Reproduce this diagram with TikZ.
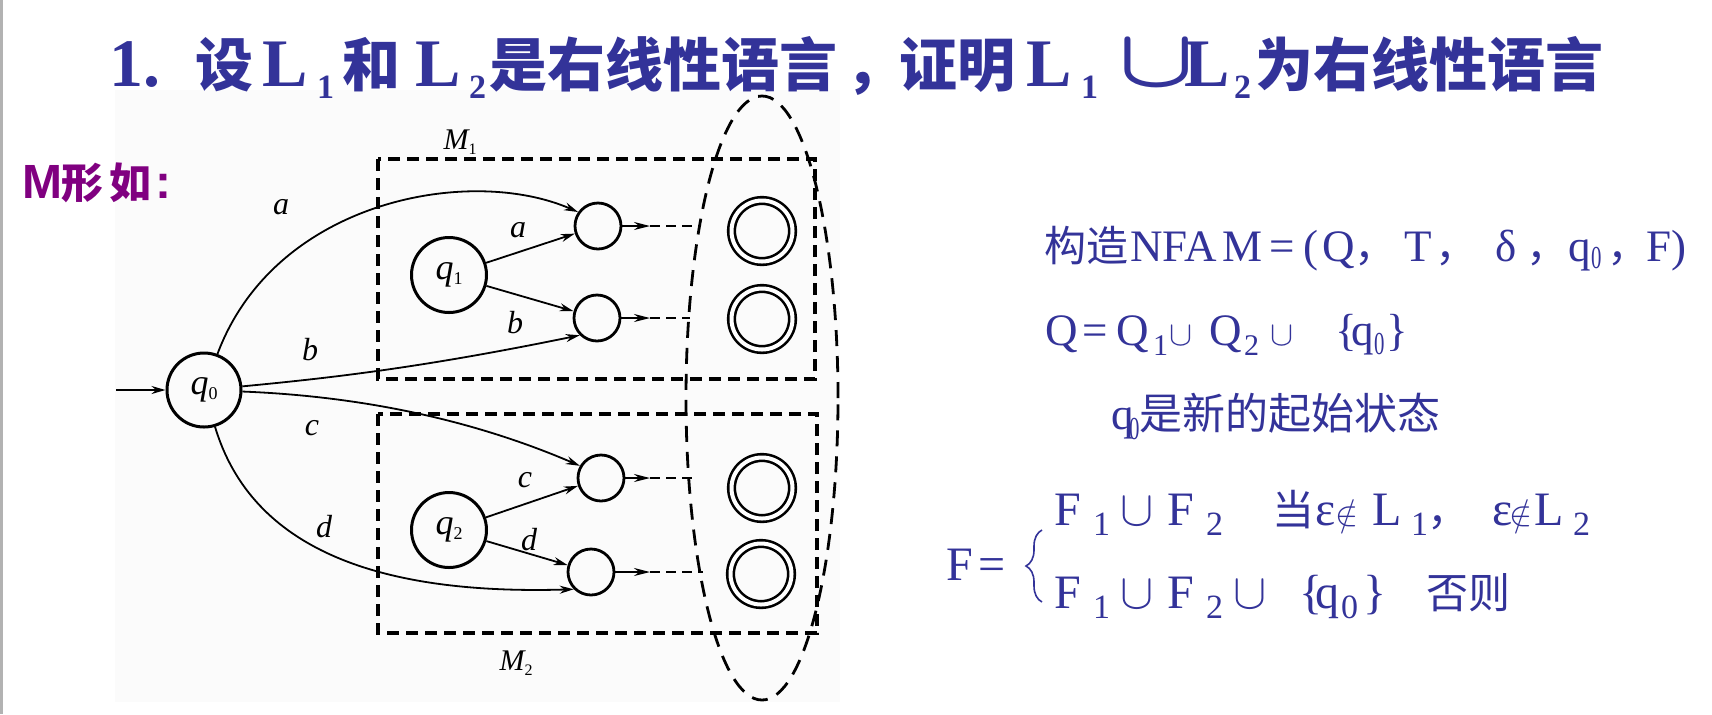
\documentclass[tikz,border=0pt]{standalone}
\usepackage{fontspec}
\usepackage{graphicx}
\setmainfont{Liberation Serif}
\newfontfamily\cjk{Noto Sans CJK SC}
\newfontfamily\arialf{Liberation Sans}
\usetikzlibrary{arrows.meta,shapes.geometric,decorations.pathreplacing}
\definecolor{tblue}{RGB}{51,51,153}
\definecolor{tpurple}{RGB}{128,0,128}
\newlength\upx \setlength\upx{0.5pt}
\newcommand\pc[2]{\rlap{\kern#1\upx #2}}
\newcommand\lowr[2]{\raisebox{-#1\upx}{#2}}
% title fonts
\newcommand\Tc{\cjk\bfseries\fontsize{29pt}{29pt}\selectfont}
\newcommand\Tl{\bfseries\fontsize{34pt}{34pt}\selectfont}
\newcommand\Ts{\bfseries\fontsize{17pt}{17pt}\selectfont}
% right text fonts
\newcommand\Rc{\cjk\fontsize{21pt}{21pt}\selectfont}
\newcommand\Rl{\fontsize{22.5pt}{22.5pt}\selectfont}
\newcommand\Rs{\fontsize{15pt}{15pt}\selectfont}
\newcommand\Fl{\fontsize{24pt}{24pt}\selectfont}
\newcommand\Fs{\fontsize{17pt}{17pt}\selectfont}
\newcommand\Fc{\cjk\fontsize{21pt}{21pt}\selectfont}
\newcommand\nsub[1]{\scalebox{0.65}[1]{\fontsize{16pt}{16pt}\selectfont #1}}
\begin{document}
\begin{tikzpicture}[x=0.5pt,y=-0.5pt,
  txt/.style={anchor=base west,inner sep=0pt,outer sep=0pt},
  bigst/.style={circle,draw,line width=1.5pt,minimum size=37.5pt,inner sep=0pt},
  smst/.style={circle,draw,line width=1.4pt,minimum size=23pt,inner sep=0pt},
  acc/.style={circle,draw,double,line width=1.3pt,double distance=2pt,minimum size=30.5pt,inner sep=0pt},
  dbox/.style={line width=1.6pt,dash pattern=on 6pt off 3.5pt},
  edge/.style={line width=0.9pt,-{Stealth[length=7pt,width=4pt]}},
  cedge/.style={line width=1pt,-{Stealth[length=8pt,width=4pt]}},
  cdash/.style={line width=1.2pt,dash pattern=on 5pt off 3pt},
  lab/.style={inner sep=0pt,font=\fontsize{16pt}{16pt}\selectfont\itshape},
  qlab/.style={inner sep=0pt,font=\fontsize{18pt}{18pt}\selectfont\itshape},
  mlab/.style={inner sep=0pt,font=\fontsize{15pt}{15pt}\selectfont\itshape}
]
\useasboundingbox (0,0) rectangle (1712,714);
\fill[white] (0,0) rectangle (1712,714);
\fill[black!1.5] (115,90) rectangle (840,702);
\draw[black!30,line width=1.5pt] (1.5,0) -- (1.5,714);

% ---------- title ----------
\node[txt,text=tblue] (title) at (109,86) {\pc{0}{\Tl 1.}\pc{86}{\Tc 设}\pc{153}{\Tl L}\pc{208}{\Ts\lowr{12}{1}}\pc{233}{\Tc 和}\pc{306}{\Tl L}\pc{360}{\Ts\lowr{12}{2}}\pc{380}{\Tc 是右线性语言}\pc{737}{\Tc ，}\pc{790}{\Tc 证明}\pc{917}{\Tl L}\pc{972}{\Ts\lowr{12}{1}}\pc{1009}{\fontsize{24.88pt}{24.88pt}\selectfont\boldmath\scalebox{2}[1.65]{$\cup$}}\pc{1075}{\Tl L}\pc{1125}{\Ts\lowr{12}{2}}\pc{1146}{\Tc 为右线性语言}\kern1490\upx};

% ---------- M形如: ----------
\node[txt,text=tpurple] (mform) at (22,198) {\pc{0}{\arialf\bfseries\fontsize{24pt}{24pt}\selectfont M}\pc{40}{\cjk\bfseries\fontsize{21pt}{21pt}\selectfont 形}\pc{88}{\cjk\bfseries\fontsize{21pt}{21pt}\selectfont 如}\pc{133}{\arialf\bfseries\fontsize{24pt}{24pt}\selectfont :}\kern150\upx};

% ---------- diagram ----------
\node[draw,ellipse,line width=1.4pt,dash pattern=on 8pt off 5pt,minimum width=76pt,minimum height=302pt,inner sep=0pt] (ell) at (762,398) {};
\draw[dbox] (378,159) rectangle (815,379);
\draw[dbox] (378,414) rectangle (817,633);
\node[mlab] (m1) at (460,142) {M\lowr{5}{\upshape\fontsize{8pt}{8pt}\selectfont 1}};
\node[mlab] (m2) at (516,663) {M\lowr{5}{\upshape\fontsize{8pt}{8pt}\selectfont 2}};

\node[bigst,minimum size=37pt] (q0) at (204,390) {};
\node[qlab] at (q0) {q\lowr{5}{\upshape\fontsize{9pt}{9pt}\selectfont 0}};
\node[bigst] (q1) at (449,275) {};
\node[qlab] at (q1) {q\lowr{5}{\upshape\fontsize{9pt}{9pt}\selectfont 1}};
\node[bigst] (q2) at (449,530) {};
\node[qlab] at (q2) {q\lowr{5}{\upshape\fontsize{9pt}{9pt}\selectfont 2}};

\node[smst] (s1) at (598,226) {};
\node[smst] (s2) at (597,318) {};
\node[smst] (s3) at (601,478) {};
\node[smst] (s4) at (591,572) {};

\node[acc] (f1) at (762,231) {};
\node[acc] (f2) at (762,319) {};
\node[acc] (f3) at (762,488) {};
\node[acc] (f4) at (761,574) {};

\coordinate (in) at (116,390);
\draw[edge] (in) -- (q0);

\draw[edge] (q0) .. controls (275,200) and (470,165) .. (s1.145);
\draw[edge] (q0) .. controls (330,378) and (420,368) .. (s2.225);
\draw[edge] (q0) .. controls (330,395) and (450,410) .. (s3.150);
\draw[edge] (q0) .. controls (252,550) and (380,595) .. (s4.225);
\draw[edge] (q1) -- (s1);
\draw[edge] (q1) -- (s2);
\draw[edge] (q2) -- (s3);
\draw[edge] (q2) -- (s4);

\node[lab] (la) at (281,207) {a};
\node[lab] (lb) at (310,350) {b};
\node[lab] (lc) at (312,428) {c};
\node[lab] (ld) at (324,527) {d};
\node[lab] (la2) at (518,230) {a};
\node[lab] (lb2) at (515,323) {b};
\node[lab] (lc2) at (525,480) {c};
\node[lab] (ld2) at (529,540) {d};

\coordinate (t1) at (650,226); \coordinate (e1) at (700,226);
\coordinate (t2) at (650,318); \coordinate (e2) at (690,318);
\coordinate (t3) at (650,478); \coordinate (e3) at (692,478);
\coordinate (t4) at (650,572); \coordinate (e4) at (703,572);
\draw[cedge] (s1) -- (t1); \draw[cdash] (t1) -- (e1);
\draw[cedge] (s2) -- (t2); \draw[cdash] (t2) -- (e2);
\draw[cedge] (s3) -- (t3); \draw[cdash] (t3) -- (e3);
\draw[cedge] (s4) -- (t4); \draw[cdash] (t4) -- (e4);

% ---------- right text ----------
\node[txt,text=tblue] (r1) at (1044,261) {\pc{0}{\Rc 构造}\pc{86}{\Rl NFA}\pc{179}{\Rl M}\pc{226}{\Rl =}\pc{260}{\Rl (}\pc{279}{\Rl Q}\pc{310}{\Rc ，}\pc{360}{\Rl T}\pc{391}{\Rc ，}\pc{451}{\Rl δ}\pc{482}{\Rc ，}\pc{524}{\Rl q}\pc{547}{\lowr{7}{\nsub{0}}}\pc{563}{\Rc ，}\pc{602}{\Rl F}\pc{627}{\Rl )}\kern640\upx};

\node[txt,text=tblue] (r2) at (1045,345) {\pc{0}{\Rl Q}\pc{37}{\Rl =}\pc{72}{\Rl Q}\pc{108}{\Rs\lowr{10}{1}}\pc{124}{\fontsize{17pt}{17pt}\selectfont$\cup$}\pc{164}{\Rl Q}\pc{199}{\Rs\lowr{10}{2}}\pc{225}{\fontsize{17pt}{17pt}\selectfont$\cup$}\pc{290}{\Rl \{}\pc{306}{\Rl q}\pc{329}{\lowr{9}{\nsub{0}}}\pc{341}{\Rl \}}\kern355\upx};

\node[txt,text=tblue] (r3) at (1111,429) {\pc{0}{\Rl q}\pc{18}{\lowr{10}{\nsub{0}}}\pc{28}{\cjk\fontsize{21.5pt}{21.5pt}\selectfont 是新的起始状态}\kern330\upx};

\node[txt,text=tblue] (feq) at (946,580) {\pc{0}{\Fl F}\pc{33}{\Fl =}\kern60\upx};
\coordinate (bb) at (1042,602); \coordinate (bt) at (1042,530);
\draw[tblue,line width=0.8pt,decorate,decoration={brace,amplitude=8pt}] (bb) -- (bt);

\node[txt,text=tblue] (fl1) at (1054,525) {\pc{0}{\Fl F}\pc{39}{\Fs\lowr{10}{1}}\pc{66}{\fontsize{26pt}{26pt}\selectfont$\cup$}\pc{113}{\Fl F}\pc{152}{\Fs\lowr{10}{2}}\pc{218}{\Fc 当}\pc{261}{\Fl ε}\pc{281}{\fontsize{19pt}{19pt}\selectfont$\notin$}\pc{318}{\Fl L}\pc{357}{\Fs\lowr{10}{1}}\pc{373}{\Fc ，}\pc{438}{\Fl ε}\pc{455}{\fontsize{19pt}{19pt}\selectfont$\notin$}\pc{480}{\Fl L}\pc{519}{\Fs\lowr{10}{2}}\kern540\upx};

\node[txt,text=tblue] (fl2) at (1054,608) {\pc{0}{\Fl F}\pc{39}{\Fs\lowr{10}{1}}\pc{66}{\fontsize{26pt}{26pt}\selectfont$\cup$}\pc{113}{\Fl F}\pc{152}{\Fs\lowr{10}{2}}\pc{179}{\fontsize{26pt}{26pt}\selectfont$\cup$}\pc{245}{\Fl \{}\pc{261}{\Fl q}\pc{287}{\Fs\lowr{10}{0}}\pc{309}{\Fl \}}\pc{372}{\Fc 否则}\kern460\upx};
\end{tikzpicture}
\end{document}
